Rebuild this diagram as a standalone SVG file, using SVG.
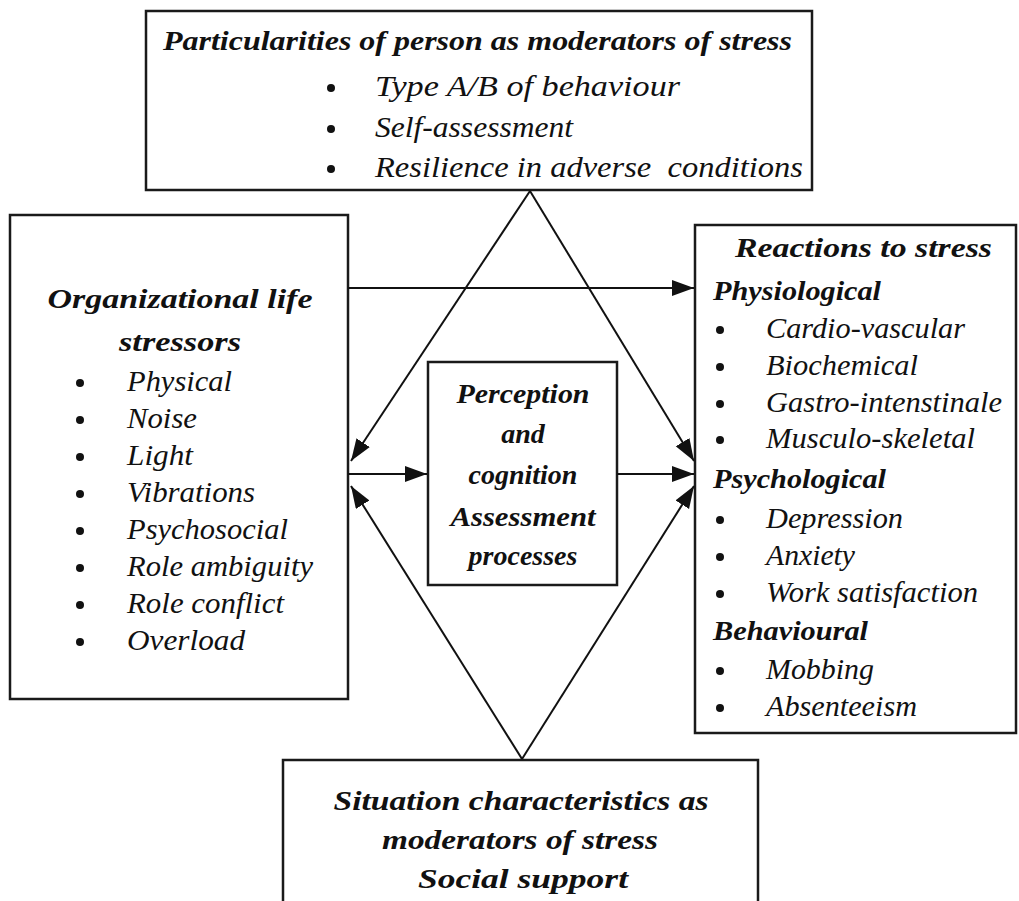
<svg xmlns="http://www.w3.org/2000/svg" width="1019" height="901" viewBox="0 0 1019 901">
<style>
.box{fill:#fff;stroke:#1a1a1a;stroke-width:2.5}
.ln{stroke:#111;stroke-width:2;fill:none}
text{font-family:"Liberation Serif","Times New Roman",serif;fill:#111;font-style:italic}
.b{font-weight:bold}
.t{font-size:28px}
.u{font-size:29px}
.c{text-anchor:middle}
.dot{fill:#111}
</style>
<defs>
<marker id="ah" markerUnits="userSpaceOnUse" markerWidth="24" markerHeight="18" refX="22" refY="8" orient="auto" viewBox="0 0 24 18">
<path d="M0,0 L22,8 L0,16 z" fill="#111"/>
</marker>
</defs>
<rect width="1019" height="901" fill="#fff"/>

<g id="top-box">
<rect class="box" x="146" y="11" width="666" height="179"/>
<text class="b t" x="163" y="50" textLength="629" lengthAdjust="spacingAndGlyphs">Particularities of person as moderators of stress</text>
<circle class="dot" cx="331" cy="88" r="4"/>
<circle class="dot" cx="331" cy="129" r="4"/>
<circle class="dot" cx="331" cy="169" r="4"/>
<text class="u" x="375" y="96" textLength="305" lengthAdjust="spacingAndGlyphs">Type A/B of behaviour</text>
<text class="u" x="375" y="137" textLength="198" lengthAdjust="spacingAndGlyphs">Self-assessment</text>
<text class="u" x="375" y="177" xml:space="preserve" textLength="428" lengthAdjust="spacingAndGlyphs">Resilience in adverse  conditions</text>
</g>

<g id="left-box">
<rect class="box" x="10" y="215" width="338" height="484"/>
<text class="b t c" x="180" y="308" textLength="265" lengthAdjust="spacingAndGlyphs">Organizational life</text>
<text class="b t c" x="180" y="351" textLength="122" lengthAdjust="spacingAndGlyphs">stressors</text>
<g class="dot">
<circle cx="80" cy="383" r="4"/><circle cx="80" cy="420" r="4"/><circle cx="80" cy="457" r="4"/><circle cx="80" cy="494" r="4"/>
<circle cx="80" cy="531" r="4"/><circle cx="80" cy="568" r="4"/><circle cx="80" cy="605" r="4"/><circle cx="80" cy="642" r="4"/>
</g>
<text class="u" x="127" y="391" textLength="105" lengthAdjust="spacingAndGlyphs">Physical</text>
<text class="u" x="127" y="428" textLength="70" lengthAdjust="spacingAndGlyphs">Noise</text>
<text class="u" x="127" y="465" textLength="66" lengthAdjust="spacingAndGlyphs">Light</text>
<text class="u" x="127" y="502" textLength="128" lengthAdjust="spacingAndGlyphs">Vibrations</text>
<text class="u" x="127" y="539" textLength="161" lengthAdjust="spacingAndGlyphs">Psychosocial</text>
<text class="u" x="127" y="576" textLength="186" lengthAdjust="spacingAndGlyphs">Role ambiguity</text>
<text class="u" x="127" y="613" textLength="157" lengthAdjust="spacingAndGlyphs">Role conflict</text>
<text class="u" x="127" y="650" textLength="118" lengthAdjust="spacingAndGlyphs">Overload</text>
</g>

<g id="center-box">
<rect class="box" x="428" y="362" width="189" height="223"/>
<text class="b t c" x="523" y="403" textLength="133" lengthAdjust="spacingAndGlyphs">Perception</text>
<text class="b t c" x="523" y="443">and</text>
<text class="b t c" x="523" y="484">cognition</text>
<text class="b t c" x="523" y="526" textLength="145" lengthAdjust="spacingAndGlyphs">Assessment</text>
<text class="b t c" x="523" y="565">processes</text>
</g>

<g id="right-box">
<rect class="box" x="695" y="225" width="321" height="508"/>
<text class="b t" x="735" y="257" textLength="257" lengthAdjust="spacingAndGlyphs">Reactions to stress</text>
<text class="b t" x="713" y="300" textLength="168" lengthAdjust="spacingAndGlyphs">Physiological</text>
<text class="b t" x="713" y="488" textLength="173" lengthAdjust="spacingAndGlyphs">Psychological</text>
<text class="b t" x="713" y="640" textLength="155" lengthAdjust="spacingAndGlyphs">Behavioural</text>
<g class="dot">
<circle cx="720" cy="330" r="4"/><circle cx="720" cy="367" r="4"/><circle cx="720" cy="404" r="4"/><circle cx="720" cy="440" r="4"/>
<circle cx="720" cy="520" r="4"/><circle cx="720" cy="557" r="4"/><circle cx="720" cy="594" r="4"/>
<circle cx="720" cy="671" r="4"/><circle cx="720" cy="708" r="4"/>
</g>
<text class="u" x="766" y="338" textLength="199" lengthAdjust="spacingAndGlyphs">Cardio-vascular</text>
<text class="u" x="766" y="375" textLength="152" lengthAdjust="spacingAndGlyphs">Biochemical</text>
<text class="u" x="766" y="412" textLength="236" lengthAdjust="spacingAndGlyphs">Gastro-intenstinale</text>
<text class="u" x="766" y="448" textLength="209" lengthAdjust="spacingAndGlyphs">Musculo-skeletal</text>
<text class="u" x="766" y="528" textLength="137" lengthAdjust="spacingAndGlyphs">Depression</text>
<text class="u" x="766" y="565" textLength="89" lengthAdjust="spacingAndGlyphs">Anxiety</text>
<text class="u" x="766" y="602" textLength="212" lengthAdjust="spacingAndGlyphs">Work satisfaction</text>
<text class="u" x="766" y="679" textLength="108" lengthAdjust="spacingAndGlyphs">Mobbing</text>
<text class="u" x="766" y="716" textLength="151" lengthAdjust="spacingAndGlyphs">Absenteeism</text>
</g>

<g id="bottom-box">
<rect class="box" x="283" y="760" width="475" height="150"/>
<text class="b t c" x="521" y="810" textLength="375" lengthAdjust="spacingAndGlyphs">Situation characteristics as</text>
<text class="b t c" x="520" y="849" textLength="276" lengthAdjust="spacingAndGlyphs">moderators of stress</text>
<text class="b t c" x="523" y="888" textLength="210" lengthAdjust="spacingAndGlyphs">Social support</text>
</g>

<g id="connectors">
<line class="ln" x1="530" y1="191" x2="351" y2="461" marker-end="url(#ah)"/>
<line class="ln" x1="530" y1="191" x2="694" y2="461" marker-end="url(#ah)"/>
<line class="ln" x1="522" y1="759" x2="351" y2="486" marker-end="url(#ah)"/>
<line class="ln" x1="522" y1="759" x2="694" y2="486" marker-end="url(#ah)"/>
<line class="ln" x1="348" y1="288" x2="694" y2="288" marker-end="url(#ah)"/>
<line class="ln" x1="348" y1="474" x2="427" y2="474" marker-end="url(#ah)"/>
<line class="ln" x1="617" y1="474" x2="694" y2="474" marker-end="url(#ah)"/>
</g>
</svg>
